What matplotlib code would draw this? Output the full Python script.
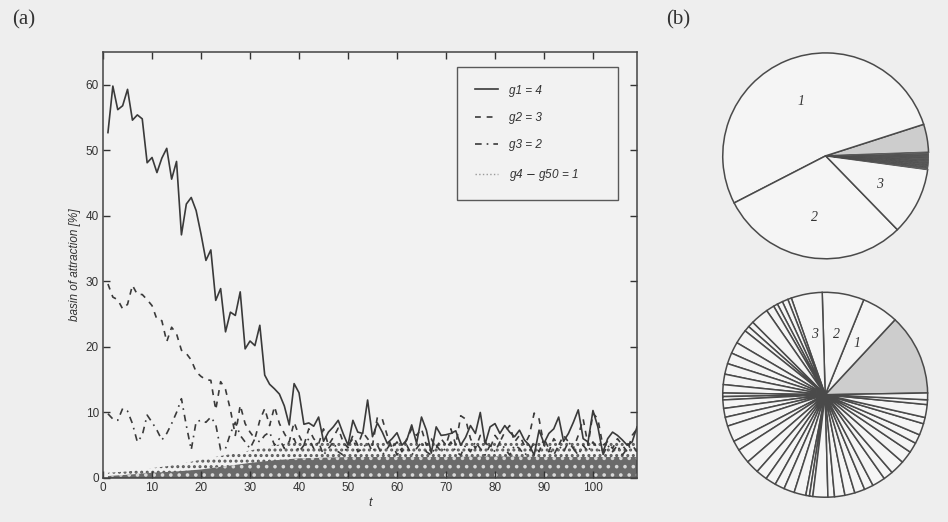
import numpy as np
import matplotlib.pyplot as plt

plt.rcParams['font.family'] = ['Liberation Sans', 'DejaVu Sans']
plt.rcParams['hatch.linewidth'] = 1.4

# time steps
t = np.arange(1, 110)

# basin of attraction [%] for the three largest attractors
g1 = [52.7, 59.8, 56.2, 56.8, 59.3, 54.6, 55.4, 54.8, 48.1, 48.9,
      46.6, 48.8, 50.3, 45.6, 48.3, 37.1, 41.8, 42.8, 40.8, 37.2,
      33.2, 34.8, 27.1, 28.9, 22.3, 25.3, 24.8, 28.4, 19.7, 20.9,
      20.2, 23.3, 15.7, 14.3, 13.6, 12.8, 11.0, 8.1, 14.4, 13.0,
      8.2, 8.4, 7.9, 9.3, 5.6, 7.0, 7.8, 8.8, 6.8, 5.0,
      8.8, 7.0, 6.8, 11.9, 6.3, 8.4, 7.0, 5.3, 6.0, 6.9,
      5.0, 5.8, 8.1, 5.3, 9.3, 7.3, 3.8, 7.8, 6.5, 6.6,
      6.8, 7.2, 5.0, 6.2, 8.0, 6.8, 10.0, 5.2, 7.8, 8.3,
      6.8, 8.0, 7.0, 6.3, 7.3, 5.8, 5.0, 3.5, 7.3, 5.3,
      6.8, 7.5, 9.3, 5.6, 6.8, 8.5, 10.4, 6.0, 5.5, 10.3,
      7.8, 3.8, 6.0, 7.0, 6.5, 5.8, 5.0, 5.5, 7.8]
g2 = [29.6, 27.6, 27.2, 25.8, 26.5, 29.4, 28.0, 28.0, 27.2, 26.3,
      24.2, 24.0, 20.8, 23.0, 22.0, 19.5, 19.0, 18.0, 16.2, 15.5,
      15.0, 14.9, 10.4, 14.7, 13.5, 10.4, 6.5, 11.1, 8.3, 7.0,
      6.0, 8.8, 10.6, 8.0, 10.9, 8.3, 6.8, 5.5, 8.5, 6.5,
      5.0, 7.5, 6.0, 5.2, 7.5, 5.0, 6.2, 7.6, 5.5, 4.6,
      6.5, 5.0, 7.0, 6.0, 5.0, 9.3, 9.0, 6.5, 4.5, 5.5,
      4.0, 6.0, 7.5, 6.5, 7.5, 5.0, 6.0, 4.5, 6.0, 5.0,
      7.5, 5.0, 9.5, 9.0, 6.0, 4.5, 6.5, 5.5, 4.5, 6.5,
      5.5, 7.0, 8.0, 5.5, 6.5, 5.0, 6.5, 9.9, 9.0, 5.0,
      4.0, 6.0, 5.0, 6.5, 5.5, 4.5, 6.5, 9.0, 5.0, 9.9,
      9.0, 5.0, 5.5, 4.5, 6.0, 5.0, 4.0, 6.5, 7.5]
g3 = [9.8, 9.0, 8.8, 10.6, 10.2, 8.3, 5.5, 6.5, 9.6, 8.5,
      7.3, 5.8, 6.8, 8.3, 10.0, 12.1, 8.0, 4.3, 8.6, 8.8,
      8.5, 9.3, 8.2, 4.3, 4.5, 6.8, 8.5, 6.5, 5.5, 4.5,
      6.0, 5.5, 6.5, 7.0, 5.0, 6.0, 4.5, 5.5, 6.0, 4.0,
      5.0, 6.0, 4.5, 5.5, 3.5, 4.5, 5.5, 4.0, 3.5, 5.0,
      6.0, 4.0, 4.5, 5.5, 4.0, 5.0, 3.5, 4.5, 5.5, 3.5,
      4.5, 5.0, 3.5, 4.5, 5.5, 4.0, 3.5, 5.0, 4.0, 4.5,
      5.5, 4.0, 3.5, 5.0, 4.0, 5.5, 4.5, 3.5, 5.0, 4.0,
      5.5, 4.5, 3.5, 5.0, 4.5, 3.5, 4.0, 5.5, 4.0, 6.0,
      4.5, 3.5, 5.0, 4.0, 5.5, 4.5, 3.5, 5.0, 4.0, 5.5,
      4.5, 3.5, 5.0, 4.0, 5.0, 3.5, 4.5, 5.0, 4.0]

# g4 - g50: dense cloud near zero, read as envelope heights
cloud_t = [1, 5, 10, 15, 20, 25, 30, 35, 40, 45, 50, 60, 70, 80, 90, 100, 109]
cloud_dense = [0.3, 0.5, 0.8, 1.0, 1.3, 1.8, 2.3, 2.7, 3.0, 3.1, 3.2, 3.2, 3.2, 3.3, 3.2, 3.2, 3.2]
cloud_sparse = [0.8, 1.0, 1.5, 2.0, 2.8, 3.5, 4.2, 5.0, 5.5, 5.5, 5.6, 5.5, 5.6, 5.5, 5.5, 5.6, 5.5]

# pie (b): unassigned share, g1, g2, g3, then g4..g50
pie_top_main = [4.4, 52.6, 29.7, 10.6]
pie_top_rest = [0.10, 0.08, 0.06, 0.07, 0.05, 0.06, 0.04, 0.05, 0.07, 0.06,
                0.05, 0.04, 0.06, 0.05, 0.07, 0.06, 0.05, 0.04, 0.06, 0.05,
                0.06, 0.07, 0.05, 0.04, 0.06, 0.05, 0.06, 0.05, 0.04, 0.06,
                0.07, 0.05, 0.06, 0.04, 0.05, 0.06, 0.05, 0.07, 0.06, 0.05,
                0.04, 0.06, 0.05, 0.06, 0.05, 0.07, 0.08]
pie_bot_main = [12.8, 5.8, 6.6, 4.9]
pie_bot_rest = [0.58, 0.92, 0.86, 0.67, 1.28, 2.83, 0.92, 0.86, 2.25, 1.81,
                1.75, 1.69, 1.64, 1.31, 0.56, 0.53, 1.33, 1.39, 1.42, 2.56,
                1.56, 2.31, 2.08, 1.78, 1.67, 1.53, 1.67, 1.86, 0.58, 0.53,
                2.36, 1.03, 1.64, 1.58, 1.61, 1.44, 2.06, 1.53, 2.28, 1.97,
                1.61, 1.44, 1.83, 1.00, 2.03, 0.75, 1.06]

bg = '#eeeeee'
ink = '#3a3a3a'

fig = plt.figure(figsize=(9.48, 5.22), dpi=100, facecolor=bg)

# ---------------- (a) ----------------
ax = fig.add_axes([0.1087, 0.0843, 0.5633, 0.8161])
ax.set_facecolor('#f2f2f2')

ax.fill_between(cloud_t, 0, cloud_sparse, facecolor='none', edgecolor='#5a5a5a',
                hatch='...', linewidth=0, zorder=1)
ax.fill_between(cloud_t, 0, cloud_dense, facecolor='#6a6a6a', edgecolor='#d8d8d8',
                hatch='..', linewidth=0, zorder=1)

ax.plot(t, g1, color=ink, lw=1.2, label='g1 = 4', zorder=3)
ax.plot(t, g2, color=ink, lw=1.2, ls=(0, (3.5, 3.5)), label='g2 = 3', zorder=3)
ax.plot(t, g3, color=ink, lw=1.2, ls=(0, (4, 3, 1, 3)), label='g3 = 2', zorder=3)
ax.plot([], [], color='#9a9a9a', lw=1.0, ls=':', label='g4 $-$ g50 = 1')

ax.set_xlim(0, 109)
ax.set_ylim(0, 65)
ax.set_xticks(range(0, 101, 10))
ax.set_yticks(range(0, 61, 10))
ax.tick_params(direction='in', top=True, right=True, length=5, width=1,
               labelsize=8.5, colors='#333333', pad=3)
for s in ax.spines.values():
    s.set_color('#444444')
    s.set_linewidth(1.1)
ax.set_xlabel('t', fontstyle='italic', fontsize=9, labelpad=2, color='#333333')
ax.set_ylabel('basin of attraction [%]', fontstyle='italic', fontsize=8.5,
              labelpad=3, color='#333333')

leg = ax.legend(loc='upper left', bbox_to_anchor=(0.663, 0.965 - 0.305, 0.301, 0.305),
                mode='expand', fontsize=8.5, frameon=True, fancybox=False,
                borderpad=1.5, labelspacing=1.3, handlelength=2.0,
                handletextpad=0.9, borderaxespad=0)
leg.get_frame().set_edgecolor('#333333')
leg.get_frame().set_linewidth(1.0)
leg.get_frame().set_facecolor('#f2f2f2')
for txt in leg.get_texts():
    txt.set_fontstyle('italic')
    txt.set_color('#333333')

fig.text(0.013, 0.962, '(a)', family='Liberation Serif', fontsize=15, color='#333333',
         va='center')
fig.text(0.703, 0.962, '(b)', family='Liberation Serif', fontsize=15, color='#333333',
         va='center')

# ---------------- (b) ----------------
def draw_pie(rect, main, rest, start, labels, rest_lw):
    pax = fig.add_axes(rect)
    vals = main + rest
    cols = ['#cdcdcd'] + ['#f5f5f5'] * (len(vals) - 1)
    wedges, _ = pax.pie(vals, startangle=start, colors=cols, counterclock=True,
                        wedgeprops=dict(edgecolor='#4a4a4a', linewidth=1.1))
    for w in wedges[len(main):]:
        w.set_linewidth(rest_lw)
    pax.set_xlim(-1.01, 1.01)
    pax.set_ylim(-1.01, 1.01)
    pax.set_aspect('equal')
    pax.axis('off')
    for (x, y, s) in labels:
        pax.text(x, y, s, family='Liberation Serif', fontstyle='italic',
                 fontsize=10, color='#333333', ha='center', va='center')

draw_pie([0.7613, 0.5023, 0.2193, 0.3983], pie_top_main, pie_top_rest, 2,
         [(-0.24, 0.53, '1'), (-0.11, -0.60, '2'), (0.52, -0.28, '3')], 0.35)
draw_pie([0.7613, 0.0455, 0.2183, 0.3965], pie_bot_main, pie_bot_rest, 1,
         [(0.31, 0.50, '1'), (0.108, 0.59, '2'), (-0.10, 0.585, '3')], 1.1)

fig.savefig('out.png', dpi=100, facecolor=fig.get_facecolor())
